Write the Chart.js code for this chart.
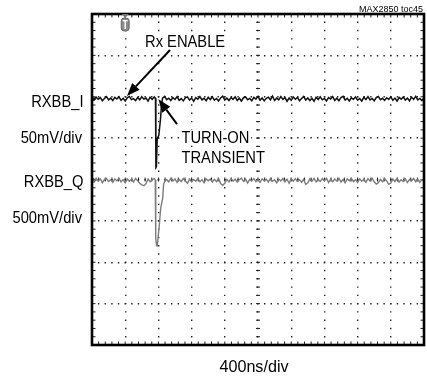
<!DOCTYPE html>
<html><head><meta charset="utf-8">
<script src="https://cdn.jsdelivr.net/npm/chart.js@4"></script>
<style>html,body{margin:0;padding:0;background:#fff}canvas{display:block}</style>
</head><body>
<canvas id="c" width="427" height="379"></canvas>
<script>
// ---- scope settings ----
const timeDivLabel = "400ns/div";
const nsPerDiv = 400;
const xRangeNs = [0, 4000];
const yRangeDiv = [-4, 4];
const sampleStepNs = 25;
const triggerTimeNs = 400;

const chILabel = "RXBB_I";
const chIScaleLabel = "50mV/div";
const chImVPerDiv = 50;
const chIOffsetDiv = 1.95;

const chQLabel = "RXBB_Q";
const chQScaleLabel = "500mV/div";
const chQmVPerDiv = 500;
const chQOffsetDiv = -0.02;

// baseline noise samples (mV), one every 25 ns from 0 to 4000 ns
const iNoise_mV = [
 0.8,-1.4,2.1,-0.6,1.5,-2.3,0.4,2.6,-1.2,0.9,
 -2.0,1.7,-0.3,2.4,-1.8,0.6,-2.6,1.3,2.9,-0.9,
 0.2,-2.2,1.6,-1.1,2.5,-0.4,1.0,-2.8,1.9,-0.7,
 2.2,-1.5,0.5,-2.4,1.8,3.0,-1.0,0.7,-2.1,1.4,
 -0.8,2.7,-1.9,0.3,-2.5,1.2,2.3,-1.6,0.9,-3.0,
 1.5,-0.5,2.8,-1.3,0.6,-2.2,1.9,-0.9,2.5,-1.7,
 0.4,-2.6,1.1,3.1,-1.4,0.8,-2.0,1.6,-0.6,2.4,
 -1.9,0.7,-2.7,1.3,2.2,-1.0,0.5,-2.3,1.8,-0.4,
 2.9,-1.6,1.0,-2.5,0.6,2.0,-1.2,3.2,-2.0,0.8,
 -1.3,2.6,-0.7,1.5,-2.9,0.9,-1.8,2.3,-0.5,1.7,
 -2.4,0.3,2.8,-1.5,1.1,-2.1,0.6,-3.1,1.9,-0.8,
 2.4,-1.2,0.5,-2.6,1.4,-0.3,2.7,-1.9,0.8,-2.2,
 1.6,3.0,-1.4,0.7,-2.5,1.2,-0.6,2.1,-1.7,0.4,
 -2.8,1.8,-0.9,2.6,-1.3,0.5,-2.3,1.5,2.9,-1.1,
 0.6,-2.0,1.3,-0.7,2.4,-1.8,0.9,-2.7,1.6,-0.4,
 2.2,-1.5,0.8,-2.4,1.9,-0.6,3.0,-1.2,0.5,-2.1,
 1.0
];
const qNoise_mV = [
 12,-20,25,-8,18,-28,10,22,-15,6,
 -24,15,-6,26,-18,9,-30,17,-10,12,
 -20,24,-5,-35,-55,-65,-40,14,-16,8,
 20,-14,9,-22,16,-45,10,-18,24,-7,
 17,-26,11,-15,22,-9,-35,14,-20,10,
 -12,25,-16,7,-28,18,-5,15,-22,12,
 -15,20,-40,-60,-35,10,-18,23,-10,15,
 -22,8,26,-13,17,-32,12,-7,21,-16,
 10,-24,18,-5,13,-20,25,-12,7,-30,
 15,-8,22,-17,12,-35,17,-10,20,-15,
 8,-23,13,-50,-30,18,-12,24,-18,10,
 -14,20,-7,25,-26,12,-17,15,-8,22,
 -20,10,-30,17,-5,23,-15,8,-25,18,
 -10,13,-22,20,-7,26,-17,-45,-28,12,
 -18,22,-8,-48,-32,15,-14,25,-20,7,
 -15,18,-26,10,-5,23,-17,13,-23,8,
 -10
];

// turn-on transient (ns, mV)
const iTransientT_ns = [765, 770, 776, 786, 805, 825, 837, 850];
const iTransient_mV  = [0.5, -83, -82, -48, -44, -25, -8, 0.8];
const qTransientT_ns = [762, 768, 778, 787, 811, 828, 852, 862, 880];
const qTransient_mV  = [5, -700, -790, -790, -540, -335, -215, -55, 4];

// annotation anchors (ns, div)
const rxEnableArrow = {from: [940, 3.13], to: [422, 2.02]};
const turnOnArrow   = {from: [1024, 1.34], to: [801, 1.94]};

function buildTrace(noise, tt, tv, mvPerDiv, offset) {
  const pts = [];
  const t0 = tt[0], t1 = tt[tt.length - 1];
  noise.forEach((v, i) => {
    const t = i * sampleStepNs;
    if (t < t0 || t > t1) pts.push({x: t, y: offset + v / mvPerDiv});
  });
  tt.forEach((t, i) => pts.push({x: t, y: offset + tv[i] / mvPerDiv}));
  pts.sort((a, b) => a.x - b.x);
  return pts;
}

const PAD = {left: 92, top: 14, right: 3, bottom: 34};
const plotW = 427 - PAD.left - PAD.right;
const plotH = 379 - PAD.top - PAD.bottom;
const xMinorPx = plotW / ((xRangeNs[1] - xRangeNs[0]) / nsPerDiv) / 5;
const yMinorPx = plotH / (yRangeDiv[1] - yRangeDiv[0]) / 5;

const FONT = "'Liberation Sans', Arial, sans-serif";

function drawText(ctx, txt, x, y, size, align, sx, bg) {
  ctx.save();
  ctx.translate(x, y);
  ctx.scale(sx, 1);
  ctx.font = size + "px " + FONT;
  ctx.textAlign = align;
  ctx.textBaseline = "alphabetic";
  if (bg) {
    const w = ctx.measureText(txt).width;
    const x0 = align === "left" ? 0 : align === "right" ? -w : -w / 2;
    ctx.fillStyle = "#fff";
    ctx.fillRect(x0 - 2, -size * 0.85, w + 4, size * 0.95);
  }
  ctx.fillStyle = "#000";
  ctx.fillText(txt, 0, 0);
  ctx.restore();
}

function arrow(ctx, x1, y1, x2, y2) {
  const ang = Math.atan2(y2 - y1, x2 - x1);
  const L = 13, W = 5;
  const bx = x2 - L * Math.cos(ang), by = y2 - L * Math.sin(ang);
  ctx.beginPath();
  ctx.moveTo(x1, y1); ctx.lineTo(bx, by);
  ctx.lineWidth = 2; ctx.strokeStyle = "#000"; ctx.stroke();
  ctx.beginPath();
  ctx.moveTo(x2, y2);
  ctx.lineTo(bx + W * Math.sin(ang), by - W * Math.cos(ang));
  ctx.lineTo(bx - W * Math.sin(ang), by + W * Math.cos(ang));
  ctx.closePath(); ctx.fillStyle = "#000"; ctx.fill();
}

const scopeDecor = {
  id: "scopeDecor",
  beforeDatasetsDraw(chart) {
    const {ctx, chartArea: a, scales: {x, y}} = chart;
    ctx.save();
    ctx.fillStyle = "#222";
    const cx = x.getPixelForValue((xRangeNs[0] + xRangeNs[1]) / 2);
    const cy = y.getPixelForValue(0);
    for (let v = yRangeDiv[0]; v <= yRangeDiv[1] + 1e-9; v += 0.2) {
      const py = y.getPixelForValue(v);
      ctx.fillRect(cx - 2, py - 0.5, 4, 1);
      ctx.fillRect(a.left, py - 0.5, 3.5, 1);
      ctx.fillRect(a.right - 3.5, py - 0.5, 3.5, 1);
    }
    for (let t = xRangeNs[0]; t <= xRangeNs[1] + 1e-9; t += nsPerDiv / 5) {
      const px = x.getPixelForValue(t);
      ctx.fillRect(px - 0.5, cy - 2, 1, 4);
      ctx.fillRect(px - 0.5, a.top, 1, 3.5);
      ctx.fillRect(px - 0.5, a.bottom - 3.5, 1, 3.5);
    }
    ctx.fillStyle = "#444";
    [chIOffsetDiv, chQOffsetDiv].forEach(v => {
      const py = y.getPixelForValue(v);
      ctx.beginPath(); ctx.moveTo(a.left + 1, py - 2.5); ctx.lineTo(a.left + 5, py); ctx.lineTo(a.left + 1, py + 2.5); ctx.fill();
    });
    ctx.restore();
  },
  afterDatasetsDraw(chart) {
    const {ctx, chartArea: a, scales: {x, y}} = chart;
    const sx = 0.92;
    // in-plot labels on white boxes
    drawText(ctx, "Rx ENABLE", 145, 46.5, 16, "left", sx, true);
    drawText(ctx, "TURN-ON", 181.5, 143.3, 16, "left", sx, true);
    drawText(ctx, "TRANSIENT", 181.5, 163.3, 16, "left", sx, true);
    ctx.save();
    ctx.lineWidth = 2.6; ctx.strokeStyle = "#000";
    ctx.strokeRect(a.left, a.top, a.right - a.left, a.bottom - a.top);
    const tx = x.getPixelForValue(triggerTimeNs);
    ctx.fillStyle = "#777";
    ctx.beginPath(); ctx.moveTo(tx - 3.5, a.top); ctx.lineTo(tx + 3.5, a.top); ctx.lineTo(tx, a.top + 4); ctx.fill();
    ctx.beginPath();
    if (ctx.roundRect) ctx.roundRect(tx - 4, a.top + 4, 8, 13, 3); else ctx.rect(tx - 4, a.top + 4, 8, 13);
    ctx.fillStyle = "#8a8a8a"; ctx.fill();
    ctx.lineWidth = 0.8; ctx.strokeStyle = "#555"; ctx.stroke();
    ctx.fillStyle = "#fff";
    ctx.fillRect(tx - 2.5, a.top + 6, 5, 1.4);
    ctx.fillRect(tx - 0.7, a.top + 6, 1.4, 9);
    [rxEnableArrow, turnOnArrow].forEach(ar => {
      arrow(ctx, x.getPixelForValue(ar.from[0]), y.getPixelForValue(ar.from[1]),
                 x.getPixelForValue(ar.to[0]), y.getPixelForValue(ar.to[1]));
    });
    ctx.restore();
    drawText(ctx, chILabel, 83.5, 106.5, 16, "right", sx);
    drawText(ctx, chIScaleLabel, 82, 143.3, 16, "right", sx);
    drawText(ctx, chQLabel, 83.5, 186.5, 16, "right", sx);
    drawText(ctx, chQScaleLabel, 82, 223.3, 16, "right", sx);
    drawText(ctx, timeDivLabel, (a.left + a.right) / 2 - 4, 372.3, 17, "center", 0.95);
    drawText(ctx, "MAX2850 toc45", 423, 11.5, 9, "right", 1);
  }
};

const iTrace = buildTrace(iNoise_mV, iTransientT_ns, iTransient_mV, chImVPerDiv, chIOffsetDiv);
const qTrace = buildTrace(qNoise_mV, qTransientT_ns, qTransient_mV, chQmVPerDiv, chQOffsetDiv);

new Chart(document.getElementById("c"), {
  type: "line",
  data: {
    datasets: [
      {label: chQLabel, data: qTrace, borderColor: "#7c7c7c", borderWidth: 1.4, pointRadius: 0, tension: 0},
      {label: chILabel, data: iTrace, borderColor: "#111", borderWidth: 1.5, pointRadius: 0, tension: 0}
    ]
  },
  options: {
    responsive: false,
    animation: false,
    devicePixelRatio: 1,
    layout: {padding: PAD},
    plugins: {legend: {display: false}, tooltip: {enabled: false}, title: {display: false}},
    scales: {
      x: {
        type: "linear", min: xRangeNs[0], max: xRangeNs[1],
        ticks: {display: false, stepSize: nsPerDiv},
        grid: {color: "#222", lineWidth: 1.4, drawTicks: false},
        border: {display: false, dash: [1.4, yMinorPx - 1.4], dashOffset: 0.7}
      },
      y: {
        type: "linear", min: yRangeDiv[0], max: yRangeDiv[1],
        ticks: {display: false, stepSize: 1},
        grid: {color: "#222", lineWidth: 1.4, drawTicks: false},
        border: {display: false, dash: [1.4, xMinorPx - 1.4], dashOffset: 0.7}
      }
    }
  },
  plugins: [scopeDecor]
});
</script>
</body></html>
